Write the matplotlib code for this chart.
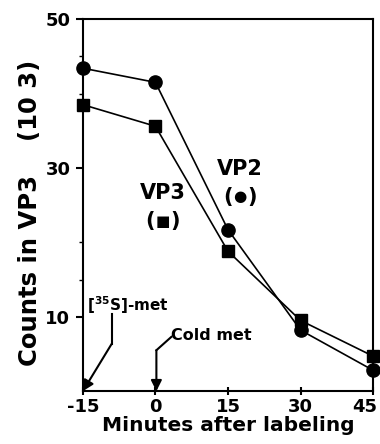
import numpy as np
import matplotlib
matplotlib.use('Agg')
import matplotlib.pyplot as plt
from matplotlib.transforms import ScaledTranslation

plt.rcParams['font.family'] = ['DejaVu Sans']
plt.rcParams['font.weight'] = 'bold'
plt.rcParams['axes.labelweight'] = 'bold'
plt.rcParams['axes.unicode_minus'] = False

minutes = [-15, 0, 15, 30, 45]
vp2_counts = [43.4, 41.5, 21.7, 8.2, 2.8]   # circles
vp3_counts = [38.5, 35.6, 18.8, 9.5, 4.7]   # squares

x_ticks = [-15, 0, 15, 30, 45]
y_ticks = [10, 30, 50]

fig = plt.figure(figsize=(3.8, 4.44), dpi=100)
ax = fig.add_axes([0.218, 0.119, 0.764, 0.838])

ax.plot(minutes, vp2_counts, color='black', lw=1.2, marker='o', ms=9.5,
        clip_on=False, zorder=3)
ax.plot(minutes, vp3_counts, color='black', lw=1.2, marker='s', ms=8.5,
        clip_on=False, zorder=3)

ax.set_xlim(-15, 45)
ax.set_ylim(0, 50)
ax.set_xticks(x_ticks)
ax.set_yticks(y_ticks)
ax.set_yticks([15, 20, 40, 45], minor=True)
ax.tick_params(axis='both', labelsize=13, width=1.5, length=5, pad=4)
ax.tick_params(axis='y', which='minor', length=3, width=1)
ax.tick_params(axis='x', direction='inout', length=6, pad=2)
for s in ax.spines.values():
    s.set_linewidth(1.5)

# last x label sits left of its tick in the original
lab45 = ax.get_xticklabels()[-1]
lab45.set_ha('right')
lab45.set_transform(lab45.get_transform() + ScaledTranslation(4 / 100, 0, fig.dpi_scale_trans))

ax.set_xlabel('Minutes after labeling', fontsize=14.5, labelpad=0)
ax.set_ylabel('Counts in VP3    (10 3)', fontsize=17.5)
ax.yaxis.set_label_coords(-0.14, 0.48)


def symbol_label(x, y, name, sym):
    ax.text(x, y, name, fontsize=15, ha='center', va='center')
    for ch, dx in (('(', -9), (')', 9)):
        ax.annotate(ch, xy=(x, y - 3.8), xytext=(dx, 0), textcoords='offset points',
                    fontsize=15, ha='center', va='center')
    ax.annotate(sym, xy=(x, y - 3.8), fontsize=11, ha='center', va='center')


symbol_label(17.5, 29.9, 'VP2', '\u25cf')
symbol_label(1.5, 26.6, 'VP3', '\u25a0')

# pulse / chase annotations
ax.text(-14.2, 11.6, r'[$^{\mathbf{35}}$S]-met', fontsize=11, ha='left', va='center')
ax.plot([-9.0, -9.0], [10.4, 6.4], color='black', lw=1.5, clip_on=False)
ax.annotate('', xy=(-15, 0), xytext=(-9.0, 6.4),
            arrowprops=dict(arrowstyle='-|>', color='black', lw=1.5,
                            mutation_scale=16, shrinkA=0, shrinkB=0))

ax.text(3.3, 7.5, 'Cold met', fontsize=11.5, ha='left', va='center')
ax.plot([3.3, 0.2], [7.3, 5.5], color='black', lw=1.5, clip_on=False)
ax.annotate('', xy=(0.2, 0), xytext=(0.2, 5.5),
            arrowprops=dict(arrowstyle='-|>', color='black', lw=1.5,
                            mutation_scale=16, shrinkA=0, shrinkB=0))

fig.savefig('out.png', dpi=100)
